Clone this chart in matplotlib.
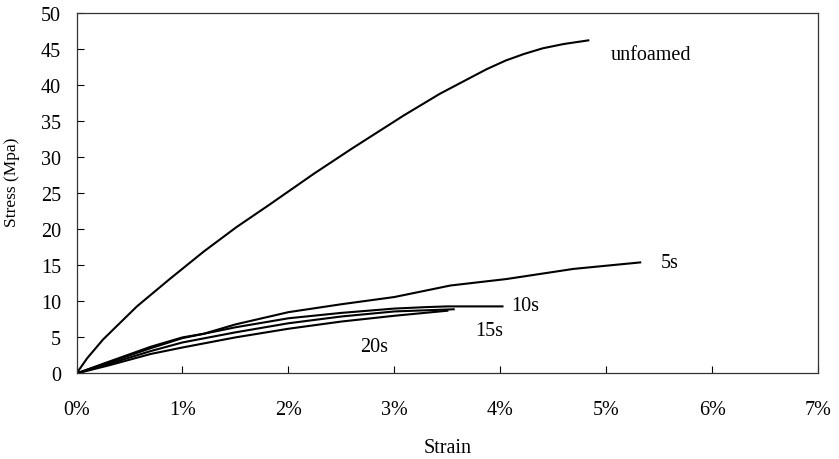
import matplotlib
matplotlib.use("Agg")
import matplotlib.pyplot as plt
from matplotlib.ticker import FuncFormatter

plt.rcParams['font.family'] = ['Liberation Serif', 'DejaVu Serif']

# strain in %, stress in MPa
unfoamed_x = [0, 0.1, 0.25, 0.57, 0.88, 1.20, 1.51, 1.81, 2.24, 2.6, 3.09, 3.43, 3.87, 4.05, 4.22, 4.40, 4.60, 4.83]
unfoamed_y = [0, 2.1, 4.7, 9.3, 13.1, 16.9, 20.3, 23.3, 27.7, 31.2, 35.8, 38.8, 42.2, 43.4, 44.3, 45.1, 45.7, 46.2]

s5_x = [0, 0.3, 0.7, 1.0, 1.2, 1.5, 2.0, 2.5, 3.0, 3.53, 4.06, 4.69, 5.32]
s5_y = [0, 1.6, 3.7, 5.0, 5.5, 6.8, 8.5, 9.6, 10.6, 12.2, 13.1, 14.5, 15.4]

s10_x = [0, 0.3, 0.7, 1.0, 1.5, 2.0, 2.5, 3.0, 3.3, 3.5, 4.02]
s10_y = [0, 1.5, 3.5, 4.9, 6.4, 7.65, 8.4, 9.0, 9.2, 9.3, 9.3]

s15_x = [0, 0.3, 0.7, 1.0, 1.5, 2.0, 2.5, 3.0, 3.56]
s15_y = [0, 1.3, 3.1, 4.3, 5.7, 6.96, 7.9, 8.6, 8.9]

s20_x = [0, 0.3, 0.7, 1.0, 1.5, 2.0, 2.5, 3.0, 3.50]
s20_y = [0, 1.1, 2.7, 3.6, 5.0, 6.2, 7.2, 8.0, 8.7]

labels = ["unfoamed", "5s", "10s", "15s", "20s"]
label_pos = [(5.04, 44.3), (5.51, 15.4), (4.10, 9.4), (3.76, 5.9), (2.68, 3.7)]

x_ticks = [0, 1, 2, 3, 4, 5, 6, 7]
y_ticks = [0, 5, 10, 15, 20, 25, 30, 35, 40, 45, 50]

fig = plt.figure(figsize=(8.39, 4.60), dpi=100)
ax = fig.add_axes([0.0912, 0.186, 0.884, 0.7836])

for xs, ys in [(unfoamed_x, unfoamed_y), (s5_x, s5_y), (s10_x, s10_y), (s15_x, s15_y), (s20_x, s20_y)]:
    ax.plot(xs, ys, color='black', lw=1.5)

for lab, (lx, ly) in zip(labels, label_pos):
    ax.text(lx, ly, lab, fontsize=14.5, va='center', ha='left')

ax.set_xlim(0, 7)
ax.set_ylim(0, 50)
ax.set_xticks(x_ticks)
ax.set_yticks(y_ticks)
ax.xaxis.set_major_formatter(FuncFormatter(lambda v, p: f"{int(round(v))}%"))
ax.tick_params(axis='x', direction='in', length=5, pad=19, labelsize=14.5)
ax.tick_params(axis='y', direction='in', length=5, pad=11, labelsize=14.5)
for sp in ax.spines.values():
    sp.set_linewidth(0.9)
    sp.set_color('#333333')

ax.set_xlabel("Strain", fontsize=14.5, labelpad=14)
ax.set_ylabel("Stress (Mpa)", fontsize=12.5)
ax.yaxis.set_label_coords(-0.076, 0.534)

fig.savefig("out.png", dpi=100)
